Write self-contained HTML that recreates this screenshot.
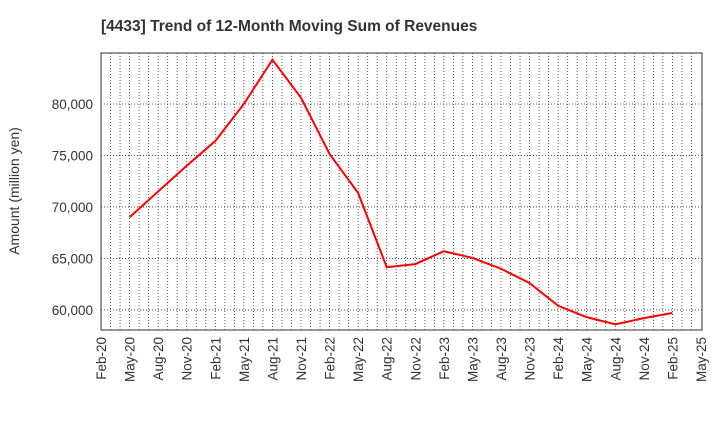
<!DOCTYPE html>
<html><head><meta charset="utf-8"><style>
body{margin:0;background:#fff;font-family:"Liberation Sans",sans-serif;}
</style></head><body>
<svg width="720" height="440" xmlns="http://www.w3.org/2000/svg">
<text x="101" y="31" font-size="15.5" font-weight="bold" fill="#333">[4433]  Trend of 12-Month Moving Sum of Revenues</text>
<text transform="translate(19,191) rotate(-90)" text-anchor="middle" font-size="14" fill="#333">Amount (million yen)</text>
<g id="grid"></g>
<rect x="101" y="53" width="601" height="277" fill="none" stroke="#333" stroke-width="1"/>
<g id="yt"></g><g id="xt"></g>
<polyline id="line" fill="none" stroke="#f00" stroke-width="2"/>
</svg>
<script>
const xLabels=["Feb-20","May-20","Aug-20","Nov-20","Feb-21","May-21","Aug-21","Nov-21","Feb-22","May-22","Aug-22","Nov-22","Feb-23","May-23","Aug-23","Nov-23","Feb-24","May-24","Aug-24","Nov-24","Feb-25","May-25"];
const yTicks=[60000,65000,70000,75000,80000];
const values=[69000,71500,74000,76400,80000,84300,80600,75150,71350,64150,64450,65700,65050,64000,62600,60400,59300,58600,59200,59700];
const NS="http://www.w3.org/2000/svg";
const X0=101,X1=701,Y0=330,Y1=53,VMIN=58050,VMAX=84950;
const xq=i=>X0+(X1-X0)*i/(xLabels.length-1);
const yv=v=>Y0-(v-VMIN)/(VMAX-VMIN)*(Y0-Y1);
function mk(t,a,p){const e=document.createElementNS(NS,t);for(const k in a)e.setAttribute(k,a[k]);p.appendChild(e);return e;}
const grid=document.getElementById('grid'),yt=document.getElementById('yt'),xt=document.getElementById('xt');
const months=(xLabels.length-1)*3;
for(let m=1;m<months;m++){const x=X0+(X1-X0)*m/months;
const l=mk('line',{x1:x,x2:x,y1:Y1,y2:Y0,stroke:'#333','stroke-width':0.8,'stroke-dasharray':'1,2'},grid);

}
yTicks.forEach(v=>{const y=yv(v);
const l=mk('line',{x1:X0,x2:702,y1:y,y2:y,stroke:'#333','stroke-width':0.8,'stroke-dasharray':'1,2'},grid);


const t=mk('text',{x:93,y:y+5,'text-anchor':'end','font-size':13.5,fill:'#333'},yt);t.textContent=v.toLocaleString('en-US');

});
xLabels.forEach((s,i)=>{const x=xq(i);
const t=mk('text',{transform:`translate(${x+5},337) rotate(-90)`,'text-anchor':'end','font-size':13.5,fill:'#333'},xt);t.textContent=s;

});
document.getElementById('line').setAttribute('points',values.map((v,i)=>xq(i+1)+','+yv(v)).join(' '));
</script>
</body></html>
